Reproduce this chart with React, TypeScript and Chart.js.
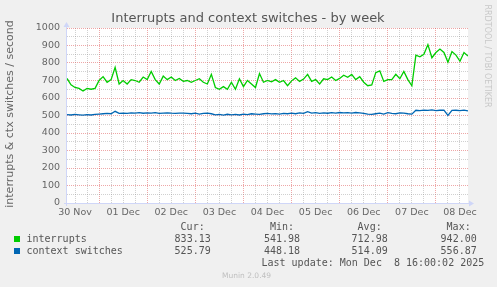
import React, { useEffect, useRef } from "react";
import { Chart, registerables } from "chart.js";

Chart.register(...registerables);

// hours since Sat 30 Nov 08:00 (one sample every 2 hours, 200 hours span)
const hours: number[] = Array.from({ length: 101 }, (_, i) => i * 2);

const interrupts: number[] = [
  712, 675, 660, 655, 640, 655, 650, 655, 700, 722,
  690, 705, 775, 680, 700, 680, 705, 700, 690, 720,
  705, 752, 705, 680, 725, 705, 720, 700, 712, 695,
  700, 690, 700, 710, 690, 680, 735, 660, 650, 665,
  650, 690, 650, 710, 665, 700, 680, 660, 740, 690,
  700, 692, 705, 690, 700, 670, 698, 715, 695, 708,
  735, 695, 705, 680, 710, 705, 720, 700, 712, 730,
  718, 735, 705, 722, 690, 670, 675, 745, 755, 695,
  705, 705, 735, 710, 752, 705, 670, 845, 835, 850,
  905, 830, 860, 880, 860, 805, 865, 845, 810, 860,
  840,
];

const contextSwitches: number[] = [
  505, 503, 506, 504, 502, 505, 503, 506, 508, 510,
  512, 510, 524, 512, 514, 512, 515, 514, 516, 513,
  515, 514, 516, 512, 514, 515, 513, 512, 514, 513,
  512, 510, 513, 508, 512, 514, 510, 504, 506, 502,
  507, 504, 506, 503, 508, 505, 510, 508, 506, 510,
  512, 509, 511, 508, 512, 510, 513, 510, 515, 512,
  522, 514, 516, 512, 515, 513, 516, 514, 517, 515,
  516, 514, 517, 515, 512, 508, 506, 510, 514, 508,
  516, 512, 510, 515, 514, 510, 508, 530, 528, 531,
  529, 532, 528, 530, 531, 500, 529, 530, 528, 531,
  526,
];

const dayLabels: string[] = ["30 Nov", "01 Dec", "02 Dec", "03 Dec", "04 Dec", "05 Dec", "06 Dec", "07 Dec", "08 Dec"];
// first noon is 4h after the left edge, first midnight 16h after it
const firstNoon = 4;
const firstMidnight = 16;
const tickHours: number[] = Array.from({ length: 33 }, (_, i) => firstNoon + i * 6);

const seriesNames = ["interrupts", "context switches"];
const seriesColors = ["#00CC00", "#0066B3"];
const curValues = ["833.13", "525.79"];
const minValues = ["541.98", "448.18"];
const avgValues = ["712.98", "514.09"];
const maxValues = ["942.00", "556.87"];

const titleText = "Interrupts and context switches - by week";
const yTitle = "interrupts & ctx switches / second";
const lastUpdate = "Last update: Mon Dec  8 16:00:02 2025";
const watermark = "RRDTOOL / TOBI OETIKER";
const footer = "Munin 2.0.49";

const FONT = '"DejaVu Sans", sans-serif';
const MONO = '"DejaVu Sans Mono", monospace';

const muninPlugin = {
  id: "muninDecor",
  beforeDraw(chart: any) {
    const { ctx, chartArea: a } = chart;
    ctx.save();
    ctx.fillStyle = "#F0F0F0";
    ctx.fillRect(0, 0, chart.width, chart.height);
    ctx.fillStyle = "#FFFFFF";
    ctx.fillRect(a.left, a.top, a.right - a.left, a.bottom - a.top);
    ctx.restore();
  },
  beforeDatasetsDraw(chart: any) {
    const { ctx, chartArea: a } = chart;
    ctx.save();
    ctx.strokeStyle = "#CFD6F8";
    ctx.fillStyle = "#CFD6F8";
    ctx.lineWidth = 1;
    // x axis
    const yb = Math.round(a.bottom) + 0.5;
    ctx.beginPath();
    ctx.moveTo(a.left - 3, yb);
    ctx.lineTo(a.right + 2, yb);
    ctx.stroke();
    ctx.beginPath();
    ctx.moveTo(a.right + 6, yb);
    ctx.lineTo(a.right + 1, yb - 3);
    ctx.lineTo(a.right + 1, yb + 3);
    ctx.closePath();
    ctx.fill();
    // y axis
    const xl = Math.round(a.left) - 0.5;
    ctx.beginPath();
    ctx.moveTo(xl, a.bottom + 3);
    ctx.lineTo(xl, a.top - 2);
    ctx.stroke();
    ctx.beginPath();
    ctx.moveTo(xl, a.top - 6);
    ctx.lineTo(xl - 3, a.top - 1);
    ctx.lineTo(xl + 3, a.top - 1);
    ctx.closePath();
    ctx.fill();
    ctx.restore();
  },
  afterDraw(chart: any) {
    const { ctx } = chart;
    ctx.save();
    // title
    ctx.fillStyle = "#555555";
    ctx.font = `13px ${FONT}`;
    ctx.textAlign = "center";
    ctx.textBaseline = "middle";
    ctx.fillText(titleText, 248, 19);

    // y title
    ctx.save();
    ctx.translate(10, 114);
    ctx.rotate(-Math.PI / 2);
    ctx.font = `11px ${FONT}`;
    ctx.fillStyle = "#666666";
    ctx.fillText(yTitle, 0, 0);
    ctx.restore();

    // watermark
    ctx.save();
    ctx.translate(487.5, 56);
    ctx.rotate(Math.PI / 2);
    ctx.font = `8px ${FONT}`;
    ctx.fillStyle = "#C8C8C8";
    ctx.fillText(watermark, 0, 0);
    ctx.restore();

    // legend
    ctx.font = `10px ${MONO}`;
    ctx.textAlign = "left";
    ctx.fillStyle = "#555555";
    const headerY = 227.7;
    const rowY = [239.3, 251];
    const colStart = [174.6, 263.9, 351.6, 440.6];
    const heads = ["Cur:", "Min:", "Avg:", "Max:"];
    heads.forEach((h, i) => ctx.fillText(h, colStart[i] + 6, headerY));
    seriesNames.forEach((name, r) => {
      ctx.fillStyle = seriesColors[r];
      ctx.fillRect(14, Math.round(rowY[r]) - 3, 6, 6);
      ctx.fillStyle = "#555555";
      ctx.fillText(name, 26.5, rowY[r]);
      const vals = [curValues[r], minValues[r], avgValues[r], maxValues[r]];
      vals.forEach((v, c) => ctx.fillText(v, colStart[c], rowY[r]));
    });
    ctx.fillText(lastUpdate, 261.5, 263.3);

    // footer
    ctx.font = `7.5px ${FONT}`;
    ctx.fillStyle = "#C0C0C0";
    ctx.fillText(footer, 222, 276.5);
    ctx.restore();
  },
};

export default function App() {
  const ref = useRef<HTMLCanvasElement | null>(null);

  useEffect(() => {
    document.body.style.margin = "0";
    document.body.style.background = "#F0F0F0";
    const canvas = ref.current;
    if (!canvas) return;
    const gridGray = "rgba(143,143,143,0.42)";
    const gridRed = "rgba(222,79,79,0.5)";
    const chart = new Chart(canvas, {
      type: "line",
      data: {
        datasets: [
          {
            label: seriesNames[0],
            data: hours.map((h, i) => ({ x: h, y: interrupts[i] })),
            borderColor: seriesColors[0],
            borderWidth: 1.3,
            pointRadius: 0,
            tension: 0,
            fill: false,
          },
          {
            label: seriesNames[1],
            data: hours.map((h, i) => ({ x: h, y: contextSwitches[i] })),
            borderColor: seriesColors[1],
            borderWidth: 1.3,
            pointRadius: 0,
            tension: 0,
            fill: false,
          },
        ],
      },
      options: {
        animation: false,
        responsive: false,
        maintainAspectRatio: false,
        events: [],
        layout: { padding: { top: 28, right: 29, left: 0, bottom: 0 } },
        plugins: {
          legend: { display: false },
          title: { display: false },
          tooltip: { enabled: false },
        },
        scales: {
          x: {
            type: "linear",
            min: 0,
            max: 200,
            afterBuildTicks: (scale: any) => {
              scale.ticks = tickHours.map((v) => ({ value: v }));
            },
            afterFit: (scale: any) => {
              scale.height = 84;
            },
            ticks: {
              autoSkip: false,
              maxRotation: 0,
              minRotation: 0,
              padding: 4,
              color: "#666666",
              font: { family: FONT, size: 9.5 },
              callback: (v: any) => {
                const k = (Number(v) - firstNoon) / 24;
                return Number.isInteger(k) ? dayLabels[k] : "";
              },
            },
            grid: {
              drawTicks: false,
              lineWidth: 1,
              color: (c: any) => {
                const v = c.tick ? c.tick.value : 0;
                return (v - firstMidnight) % 24 === 0 ? gridRed : gridGray;
              },
            },
            border: { display: false, dash: [1, 1] },
          },
          y: {
            type: "linear",
            min: 0,
            max: 1000,
            afterFit: (scale: any) => {
              scale.width = 67;
            },
            ticks: {
              stepSize: 50,
              autoSkip: false,
              padding: 7,
              color: "#666666",
              font: { family: FONT, size: 9.5 },
              callback: (v: any) => (Number(v) % 100 === 0 ? String(v) : ""),
            },
            grid: {
              drawTicks: false,
              lineWidth: 1,
              color: (c: any) => {
                const v = c.tick ? c.tick.value : 0;
                return v % 100 === 0 ? gridRed : gridGray;
              },
            },
            border: { display: false, dash: [1, 1] },
          },
        },
      },
      plugins: [muninPlugin],
    } as any);
    return () => chart.destroy();
  }, []);

  return (
    <div style={{ position: "fixed", left: 0, top: 0, width: 497, height: 287, background: "#F0F0F0" }}>
      <canvas ref={ref} width={497} height={287} style={{ display: "block", width: 497, height: 287 }} />
    </div>
  );
}
